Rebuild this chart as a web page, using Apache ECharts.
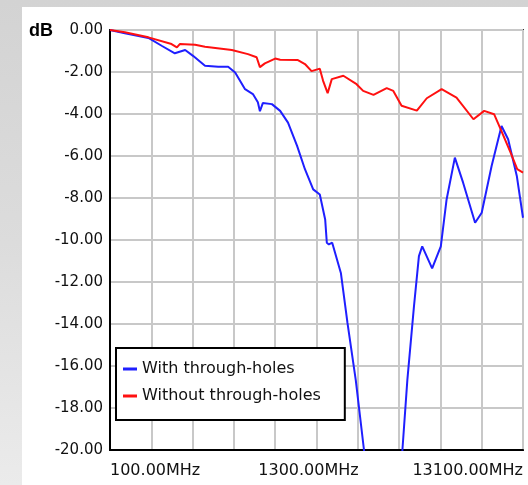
<!DOCTYPE html>
<html>
<head>
<meta charset="utf-8">
<script src="https://cdn.jsdelivr.net/npm/echarts@6/dist/echarts.min.js"></script>
<style>
  html, body { margin: 0; padding: 0; }
  body { width: 528px; height: 485px; overflow: hidden; position: relative;
         background: linear-gradient(to bottom, #d3d3d3 0%, #dcdcdc 50%, #ebebeb 100%); }
  #panel { position: absolute; left: 22px; top: 7px; width: 506px; height: 478px; background: #ffffff; }
  #chart { position: absolute; left: 0; top: 0; width: 528px; height: 485px; }
</style>
</head>
<body>
<div id="panel"></div>
<div id="chart"></div>
<script>
// Sweep position in grid divisions (0 = 100 MHz ... 10 = right edge)
const withX = [0, 0.36, 0.93, 1.25, 1.57, 1.82, 2.01, 2.30, 2.62, 2.86, 3.03, 3.27, 3.46, 3.58, 3.63, 3.70, 3.92, 4.12, 4.31, 4.53, 4.72, 4.92, 5.08, 5.21, 5.25, 5.30, 5.38, 5.59, 5.75, 5.95, 6.15, 6.40, 6.65, 6.85, 7.08, 7.20, 7.36, 7.48, 7.56, 7.80, 8.01, 8.15, 8.35, 8.55, 8.84, 9.00, 9.24, 9.48, 9.64, 9.85, 10.0];
const withDB = [0, -0.16, -0.38, -0.75, -1.11, -0.95, -1.23, -1.70, -1.75, -1.75, -2.02, -2.82, -3.05, -3.44, -3.87, -3.48, -3.53, -3.85, -4.41, -5.52, -6.63, -7.59, -7.83, -9.02, -10.13, -10.21, -10.13, -11.57, -13.95, -16.66, -20.0, -24.5, -29.0, -26.0, -20.0, -16.66, -13.16, -10.77, -10.30, -11.35, -10.30, -8.07, -6.08, -7.27, -9.18, -8.70, -6.48, -4.57, -5.20, -6.95, -8.94];

const withoutX = [0, 0.36, 0.93, 1.49, 1.62, 1.69, 2.06, 2.30, 2.95, 3.34, 3.55, 3.63, 3.75, 4.00, 4.12, 4.55, 4.72, 4.88, 5.08, 5.16, 5.27, 5.37, 5.65, 5.97, 6.13, 6.38, 6.70, 6.86, 7.06, 7.43, 7.67, 8.03, 8.39, 8.80, 9.06, 9.30, 9.46, 9.70, 9.86, 10.0];
const withoutDB = [0, -0.11, -0.35, -0.67, -0.83, -0.67, -0.70, -0.80, -0.95, -1.15, -1.30, -1.77, -1.59, -1.36, -1.42, -1.43, -1.62, -1.96, -1.84, -2.42, -3.01, -2.34, -2.18, -2.58, -2.90, -3.09, -2.77, -2.90, -3.61, -3.84, -3.25, -2.82, -3.22, -4.25, -3.85, -4.01, -4.73, -5.84, -6.63, -6.79];

const seriesNames = ['With through-holes', 'Without through-holes'];
const xTickPos = [0, 5, 10];
const xTickLabels = ['100.00MHz', '1300.00MHz', '13100.00MHz'];

function pairs(xs, ys) { return xs.map((x, i) => [x, ys[i]]); }

const chart = echarts.init(document.getElementById('chart'), null, { renderer: 'canvas' });
chart.setOption({
  backgroundColor: 'transparent',
  animation: false,
  title: {
    text: 'dB', left: 29, top: 22, padding: 0,
    textStyle: { fontFamily: 'Liberation Sans', fontWeight: 'bold', fontSize: 18, color: '#000' }
  },
  grid: {
    left: 110, right: 5, top: 30, bottom: 35,
    show: true, borderColor: '#333', borderWidth: 2, backgroundColor: 'transparent'
  },
  legend: {
    orient: 'vertical', left: 116, top: 348,
    data: seriesNames,
    icon: 'rect', itemWidth: 14, itemHeight: 3, itemGap: 11,
    padding: [13, 24, 16, 7],
    backgroundColor: '#fff', borderColor: '#000', borderWidth: 2, borderRadius: 0,
    textStyle: { fontFamily: 'DejaVu Sans', fontSize: 16, color: '#111' }
  },
  xAxis: {
    type: 'value', min: 0, max: 10, interval: 1,
    axisLine: { show: true, onZero: false, lineStyle: { color: '#000', width: 2 } },
    axisTick: { show: false },
    splitLine: { show: true, lineStyle: { color: '#c8c8c8', width: 2 } },
    axisLabel: {
      margin: 13,
      fontFamily: 'DejaVu Sans', fontSize: 16, color: '#111',
      showMinLabel: true, showMaxLabel: true,
      alignMinLabel: 'left', alignMaxLabel: 'right',
      formatter: function (v) {
        const i = xTickPos.indexOf(Math.round(v * 1000) / 1000);
        if (i < 0) return '';
        if (i === 1) return '{m|' + xTickLabels[i] + '}';
        return xTickLabels[i];
      },
      rich: { m: { fontFamily: 'DejaVu Sans', fontSize: 16, color: '#111', padding: [0, 16, 0, 0] } }
    }
  },
  yAxis: {
    type: 'value', min: -20, max: 0, interval: 2,
    axisLine: { show: true, onZero: false, lineStyle: { color: '#000', width: 2 } },
    axisTick: { show: false },
    splitLine: { show: true, lineStyle: { color: '#c8c8c8', width: 2 } },
    axisLabel: {
      margin: 7,
      fontFamily: 'DejaVu Sans', fontSize: 15, color: '#111',
      formatter: v => v.toFixed(2)
    }
  },
  series: [
    {
      name: seriesNames[0], type: 'line', data: pairs(withX, withDB),
      showSymbol: false, symbol: 'none', clip: true,
      lineStyle: { color: '#1f1fff', width: 2 }, itemStyle: { color: '#1f1fff' }, z: 3
    },
    {
      name: seriesNames[1], type: 'line', data: pairs(withoutX, withoutDB),
      showSymbol: false, symbol: 'none', clip: true,
      lineStyle: { color: '#ff1010', width: 2 }, itemStyle: { color: '#ff1010' }, z: 4
    }
  ]
});
</script>
</body>
</html>
